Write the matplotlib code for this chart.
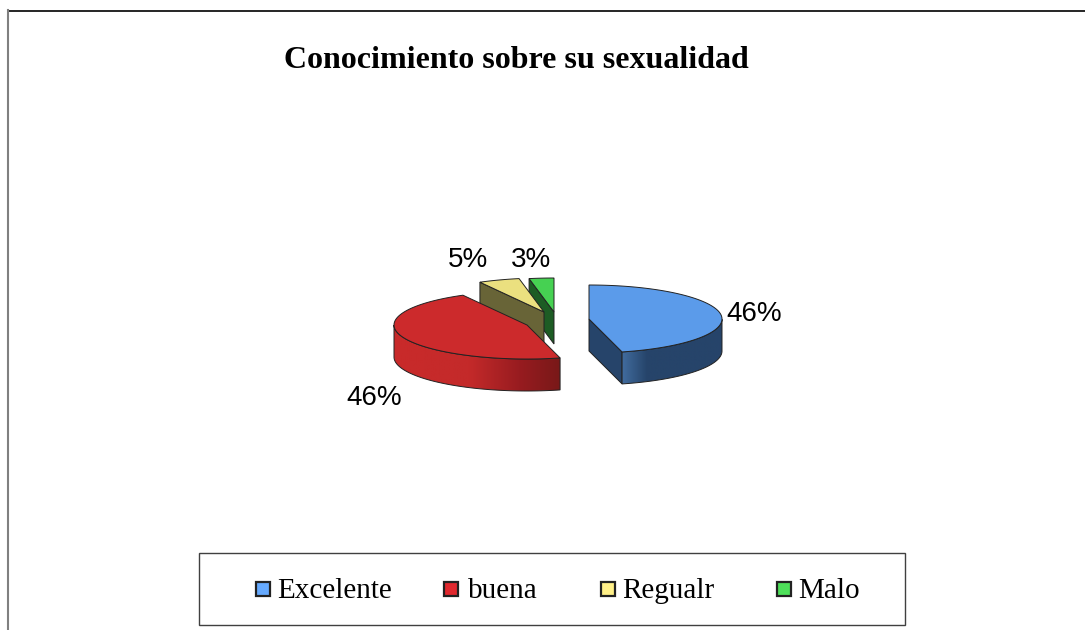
import numpy as np
import matplotlib
matplotlib.use('Agg')
import matplotlib.pyplot as plt
from matplotlib.patches import Polygon, Rectangle
from matplotlib.colors import to_rgb

title = 'Conocimiento sobre su sexualidad'
categories = ['Excelente', 'buena', 'Regualr', 'Malo']
values = [46, 46, 5, 3]
pct_labels = ['46%', '46%', '5%', '3%']

# pie layout, in pixels
centers = [(589, 319), (527, 325), (544, 312), (554, 312)]
rx, ry, depth = 133, 34, 32
top_colors = ['#5b9bea', '#cc2a2c', '#ebe07f', '#46d152']
cut_colors = ['#26446a', '#7a1818', '#686437', '#1d5c24']
side_stops = [
    [(0, '#416c9e'), (0.25, '#26446a'), (1, '#26446a')],
    [(0, '#c92a2a'), (0.45, '#c42a2a'), (0.75, '#981c20'), (1, '#781818')],
    [(0, '#686437'), (1, '#686437')],
    [(0, '#1d5c24'), (1, '#1d5c24')],
]
legend_colors = ['#66aaff', '#e0282e', '#fff088', '#4ee05a']
legend_sq_x = [256, 444, 601, 777]
legend_txt_x = [277, 468, 622, 798]
label_xy = [(754, 314), (374, 398), (468, 260), (531, 260)]
edge = '#222222'

fig = plt.figure(figsize=(10.85, 6.3), dpi=100)
ax = fig.add_axes([0, 0, 1, 1])
ax.axis('off')

# outer chart border (runs off the right and bottom of the picture)
ax.plot([1085, 8], [10.5, 10.5], color='black', lw=1.2, zorder=1)
ax.plot([7.5, 7.5], [10, 630], color='#808080', lw=1.5, zorder=1)


def ellipse(cx, cy, angles):
    # angles are clockwise from 12 o'clock, y axis points down
    return cx + rx * np.sin(angles), cy - ry * np.cos(angles)


start = 0.0
order = []
for i, v in enumerate(values):
    end = start + v / sum(values) * 2 * np.pi
    order.append((i, start, end))
    start = end

# back slices first so the red one covers the olive side of the yellow one
for i, a0, a1 in [order[3], order[2], order[1], order[0]]:
    cx, cy = centers[i]
    z = 10 + 10 * (3 - i)
    angs = np.linspace(a0, a1, 120)
    xs, ys = ellipse(cx, cy, angs)

    # flat cut face, only when it looks towards the viewer
    if i >= 2:
        p = (xs[0], ys[0])
    elif i == 0:
        p = (xs[-1], ys[-1])
    else:
        p = None
    if p is not None:
        ax.add_patch(Polygon([(cx, cy), p, (p[0], p[1] + depth), (cx, cy + depth)],
                             closed=True, fc=cut_colors[i], ec=edge, lw=0.7, zorder=z))

    # rounded outer side, only the front half is seen
    vis = (angs >= np.pi / 2) & (angs <= 3 * np.pi / 2)
    if vis.sum() > 1:
        vx, vy = xs[vis], ys[vis]
        order_x = np.argsort(vx)
        vx, vy = vx[order_x], vy[order_x]
        stops = side_stops[i]
        tpos = [s[0] for s in stops]
        rgb = np.array([to_rgb(s[1]) for s in stops])
        t = np.linspace(0, 1, 256)
        grad = np.stack([np.interp(t, tpos, rgb[:, c]) for c in range(3)], axis=-1)[None, :, :]
        outline = np.vstack([np.column_stack([vx, vy]),
                             np.column_stack([vx[::-1], vy[::-1] + depth])])
        clip = Polygon(outline, closed=True, fc='none', ec=edge, lw=0.7, zorder=z + 1)
        ax.add_patch(clip)
        im = ax.imshow(grad, extent=[vx.min(), vx.max(), vy.max() + depth, vy.min()],
                       aspect='auto', zorder=z, interpolation='bilinear')
        im.set_clip_path(clip)

    # top of the slice
    ax.add_patch(Polygon(np.column_stack([np.r_[cx, xs], np.r_[cy, ys]]), closed=True,
                         fc=top_colors[i], ec=edge, lw=0.7, zorder=z + 2))

    ax.text(label_xy[i][0], label_xy[i][1], pct_labels[i], family='Liberation Sans', fontsize=20,
            ha='center', va='center', color='black', zorder=60)

ax.text(516.5, 60, title, family='Liberation Serif', fontsize=23, fontweight='bold',
        ha='center', va='center', color='black')

# legend box
ax.add_patch(Rectangle((199, 553), 706, 72, fc='white', ec='#404040', lw=1.0, zorder=2))
for name, col, sx, tx in zip(categories, legend_colors, legend_sq_x, legend_txt_x):
    ax.add_patch(Rectangle((sx, 582), 14, 14, fc=col, ec='#222222', lw=1.6, zorder=3))
    ax.text(tx, 591, name, family='Liberation Serif', fontsize=21,
            ha='left', va='center', color='black', zorder=3)

# imshow resets the limits, so set them last
ax.set_xlim(0, 1085)
ax.set_ylim(630, 0)

fig.savefig('out.png', dpi=100)
